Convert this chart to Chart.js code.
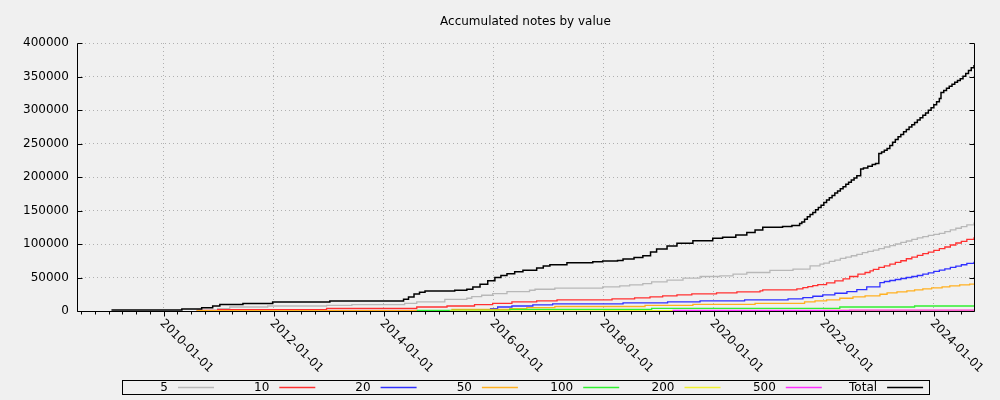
<!DOCTYPE html>
<html>
<head>
<meta charset="utf-8">
<script src="https://cdn.jsdelivr.net/npm/chart.js@4/dist/chart.umd.min.js"></script>
<style>
  html, body { margin: 0; padding: 0; background: #f0f0f0; }
  #wrap { width: 1000px; height: 400px; }
</style>
</head>
<body>
<div id="wrap"><canvas id="notes_chart"></canvas></div>
<script>
// accumulated notes, x = decimal year, value steps up at each listed date
const seriesNames = ['5', '10', '20', '50', '100', '200', '500', 'Total'];

const years5 = [2010.60, 2010.98, 2011.20, 2011.89, 2012.96, 2013.42, 2014.38, 2014.60, 2015.11, 2015.51, 2015.60, 2015.78, 2015.98, 2016.24, 2016.65, 2016.75, 2017.11, 2017.98, 2018.29, 2018.47, 2018.71, 2018.87, 2019.15, 2019.44, 2019.75, 2020.11, 2020.35, 2020.60, 2021.02, 2021.44, 2021.75, 2021.93,
    2022.0, 2022.1, 2022.2, 2022.3, 2022.4, 2022.5, 2022.6, 2022.7, 2022.8, 2022.9, 2023.0, 2023.1, 2023.2, 2023.3, 2023.4, 2023.5, 2023.6, 2023.7, 2023.8, 2023.9, 2024.0, 2024.1, 2024.2, 2024.3, 2024.4, 2024.5, 2024.6, 2024.73];
const values5 = [1000, 3500, 6000, 7500, 8500, 9500, 11500, 13500, 17500, 19000, 21500, 23500, 26000, 29000, 31000, 32500, 34000, 36000, 37500, 39000, 41000, 43500, 46000, 49000, 51500, 52500, 55000, 57500, 60500, 62500, 67500, 70000,
    71500, 74000, 76000, 78500, 80500, 82500, 84500, 87000, 89000, 91000, 93000, 95500, 97500, 100000, 102500, 104500, 107000, 109000, 111000, 113000, 114500, 116000, 118500, 121000, 123500, 126000, 128500, 132000];

const years10 = [2010.60, 2010.98, 2012.96, 2014.60, 2015.15, 2015.65, 2015.98, 2016.33, 2016.78, 2017.15, 2018.15, 2018.56, 2018.84, 2019.07, 2019.33, 2019.60, 2020.05, 2020.42, 2020.84, 2020.89, 2021.51, 2021.62, 2021.71, 2021.80, 2021.89, 2022.05, 2022.20, 2022.35, 2022.47, 2022.62, 2022.75, 2022.84,
    2022.9, 2023.0, 2023.1, 2023.2, 2023.3, 2023.4, 2023.5, 2023.6, 2023.7, 2023.8, 2023.9, 2024.0, 2024.1, 2024.2, 2024.3, 2024.4, 2024.5, 2024.6, 2024.73];
const values10 = [1000, 2200, 3700, 6000, 7500, 9400, 11500, 13500, 15000, 16500, 18000, 19500, 21000, 22500, 24000, 25500, 27000, 28500, 30000, 31500, 33000, 35000, 36500, 38000, 39500, 42000, 45000, 48000, 51500, 55000, 57500, 60000,
    62000, 65000, 67500, 70000, 72500, 75000, 78000, 80500, 83000, 85500, 88000, 90500, 93000, 95500, 98500, 101500, 104000, 107000, 110000];

const years20 = [2015.93, 2016.07, 2016.33, 2016.71, 2017.07, 2018.35, 2019.16, 2019.75, 2020.56, 2021.35, 2021.62, 2021.80, 2021.98, 2022.20, 2022.42, 2022.60, 2022.78, 2023.02,
    2023.1, 2023.2, 2023.3, 2023.4, 2023.5, 2023.6, 2023.7, 2023.8, 2023.9, 2024.0, 2024.1, 2024.2, 2024.3, 2024.4, 2024.5, 2024.6, 2024.73];
const values20 = [3500, 6000, 7500, 9000, 10500, 12000, 13500, 15000, 16500, 18000, 20000, 22000, 24000, 26500, 29000, 32000, 36000, 42500,
    44000, 45500, 47000, 48500, 50000, 51500, 53000, 55000, 57000, 59000, 61000, 63000, 65000, 67000, 69000, 71000, 73500];

const years50 = [2010.60, 2015.24, 2016.29, 2016.60, 2017.11, 2018.75, 2019.62, 2020.75, 2021.65, 2021.84, 2022.05, 2022.29, 2022.53, 2022.75, 2023.02, 2023.15, 2023.33, 2023.51, 2023.65, 2023.80, 2023.96, 2024.15, 2024.29, 2024.47, 2024.65, 2024.73];
const values50 = [500, 2500, 3500, 5000, 6700, 8500, 10000, 11500, 13500, 15000, 16500, 19000, 21000, 22500, 25000, 27000, 28500, 30000, 31500, 33000, 34500, 36000, 37500, 39000, 40000, 40000];

const years100 = [2014.60, 2016.29, 2018.87, 2022.29, 2023.65, 2024.73];
const values100 = [1000, 2500, 4000, 6000, 7500, 7500];

const years200 = [2015.20, 2018.00, 2022.00, 2024.73];
const values200 = [300, 600, 1000, 1200];

const years500 = [2019.25, 2022.47, 2024.73];
const values500 = [1000, 1200, 1500];

const yearsTotal = [2009.05, 2010.33, 2010.69, 2010.89, 2011.02, 2011.44, 2011.98, 2013.02, 2014.36, 2014.45, 2014.55, 2014.65, 2014.75, 2015.29, 2015.51, 2015.62, 2015.75, 2015.89, 2016.02, 2016.13, 2016.24, 2016.38, 2016.53, 2016.78, 2016.90, 2017.02, 2017.33, 2017.80, 2017.98, 2018.25, 2018.35, 2018.55, 2018.71, 2018.85, 2018.96, 2019.15, 2019.33, 2019.62, 2019.98, 2020.16, 2020.40, 2020.60, 2020.75, 2020.89, 2021.25, 2021.42, 2021.56,
    2021.60, 2021.65, 2021.70, 2021.75, 2021.80, 2021.85, 2021.90, 2021.95, 2022.00, 2022.05, 2022.10, 2022.15, 2022.20, 2022.25, 2022.30, 2022.35, 2022.40, 2022.45, 2022.50, 2022.55, 2022.60, 2022.67, 2022.72, 2022.80, 2022.88, 2022.94, 2023.00,
    2023.05, 2023.10, 2023.15, 2023.20, 2023.25, 2023.30, 2023.35, 2023.40, 2023.45, 2023.50, 2023.55, 2023.60, 2023.65, 2023.70, 2023.75, 2023.80, 2023.85, 2023.90, 2023.95, 2024.00, 2024.05, 2024.10, 2024.13,
    2024.18, 2024.23, 2024.28, 2024.33, 2024.38, 2024.43, 2024.48, 2024.53, 2024.58, 2024.63, 2024.68, 2024.73];
const valuesTotal = [1500, 3000, 5000, 7500, 9700, 11200, 13500, 15000, 17500, 21000, 25500, 28000, 30000, 31000, 32500, 36000, 40000, 45000, 50000, 53000, 55500, 58500, 61000, 64000, 67000, 69000, 72000, 73500, 74500, 75500, 77500, 80000, 82500, 88000, 92500, 97000, 101000, 105000, 108500, 110000, 113500, 117000, 121000, 125000, 126000, 127500, 130500,
    133000, 137000, 140500, 144000, 147000, 151000, 154500, 158000, 162000, 165500, 169000, 172500, 176000, 179000, 182500, 185500, 189000, 192000, 195500, 198500, 202000, 212000, 213500, 216000, 218500, 220000, 235000,
    237500, 240000, 242500, 247000, 252000, 256000, 260000, 263500, 267500, 271000, 274500, 278000, 281500, 285000, 288500, 292000, 295500, 299500, 303500, 308000, 312500, 317000, 326000,
    329000, 332500, 335500, 338500, 341500, 344000, 346500, 350500, 354500, 359000, 363000, 367000];

const allYears = [years5, years10, years20, years50, years100, years200, years500, yearsTotal];
const allValues = [values5, values10, values20, values50, values100, values200, values500, valuesTotal];

const dateTickYears = [2010, 2012, 2014, 2016, 2018, 2020, 2022, 2024];
const dateTickLabels = ['2010-01-01', '2012-01-01', '2014-01-01', '2016-01-01', '2018-01-01', '2020-01-01', '2022-01-01', '2024-01-01'];

const chartTitle = 'Accumulated notes by value';
const lineColors = ['#b8b8b8', '#ff3030', '#3030ff', '#ffb020', '#30f030', '#f0f030', '#ff30ff', '#000000'];
const FONT = '"DejaVu Sans", sans-serif';

const datasets = seriesNames.map((name, i) => ({
    label: name,
    data: allYears[i].map((yr, k) => ({ x: yr, y: allValues[i][k] })),
    borderColor: lineColors[i],
    borderWidth: i === 7 ? 1.5 : 1.3,
    pointRadius: 0,
    stepped: 'before',
    fill: false,
    order: seriesNames.length - 1 - i
}));

// title over the plot, axes, tick marks, rotated dates and the boxed legend (gnuplot look)
const framePlugin = {
    id: 'frame',
    afterDraw(chart) {
        const ctx = chart.ctx;
        const a = chart.chartArea;
        const xs = chart.scales.x, ys = chart.scales.y;
        const L = Math.round(a.left) + 0.5, R = Math.round(a.right) + 0.5;
        const T = Math.round(a.top) + 0.5, B = Math.round(a.bottom) + 0.5;
        ctx.save();
        ctx.fillStyle = '#000';
        ctx.font = '12px ' + FONT;
        ctx.textAlign = 'center';
        ctx.textBaseline = 'middle';
        ctx.fillText(chartTitle, (a.left + a.right) / 2, 22);

        ctx.strokeStyle = '#000';
        ctx.lineWidth = 1;
        ctx.beginPath();
        ctx.moveTo(L, T); ctx.lineTo(L, B); ctx.lineTo(R, B); ctx.lineTo(R, T);
        // y ticks, inward on both sides
        for (let v = 0; v <= 400000; v += 50000) {
            const py = Math.round(ys.getPixelForValue(v)) + 0.5;
            ctx.moveTo(L, py); ctx.lineTo(L + 5, py);
            ctx.moveTo(R, py); ctx.lineTo(R - 5, py);
        }
        // x ticks every quarter, outward
        for (let q = Math.ceil(xs.min * 4); q <= xs.max * 4; q++) {
            const px = Math.round(xs.getPixelForValue(q / 4)) + 0.5;
            const major = q % 8 === 0;
            ctx.moveTo(px, B); ctx.lineTo(px, B + (major ? 5 : 3));
        }
        ctx.stroke();

        ctx.textAlign = 'left';
        dateTickYears.forEach((yr, i) => {
            const px = xs.getPixelForValue(yr);
            ctx.save();
            ctx.translate(px - 2, B + 10);
            ctx.rotate(Math.PI / 4);
            ctx.fillText(dateTickLabels[i], 0, 0);
            ctx.restore();
        });

        // legend
        ctx.strokeRect(122.5, 380.5, 807, 14);
        seriesNames.forEach((name, i) => {
            const tx = 168 + i * 101.3;
            ctx.textAlign = 'right';
            ctx.fillStyle = '#000';
            ctx.fillText(name, tx, 387.5);
            ctx.beginPath();
            ctx.strokeStyle = lineColors[i];
            ctx.lineWidth = i === 7 ? 1.5 : 1.3;
            ctx.moveTo(tx + 10, 387.5); ctx.lineTo(tx + 46, 387.5);
            ctx.stroke();
        });
        ctx.restore();
    }
};

new Chart(document.getElementById('notes_chart'), {
    type: 'line',
    data: { datasets: datasets },
    options: {
        responsive: true,
        maintainAspectRatio: false,
        animation: false,
        layout: { padding: { left: 15, right: 26, top: 43, bottom: 89 } },
        plugins: {
            legend: { display: false },
            tooltip: { enabled: false },
            title: { display: false }
        },
        scales: {
            x: {
                type: 'linear',
                min: 2008.42,
                max: 2024.73,
                afterBuildTicks: (scale) => { scale.ticks = dateTickYears.map(v => ({ value: v })); },
                ticks: { display: false },
                grid: { color: '#b0b0b0', lineWidth: 1, drawTicks: false },
                border: { display: false, dash: [1, 3] }
            },
            y: {
                min: 0,
                max: 400000,
                ticks: {
                    stepSize: 50000, color: '#000', padding: 8,
                    font: { family: FONT, size: 12 },
                    callback: (v) => String(v)
                },
                grid: { color: '#b0b0b0', lineWidth: 1, drawTicks: false },
                border: { display: false, dash: [1, 3] }
            }
        }
    },
    plugins: [framePlugin]
});
</script>
</body>
</html>
